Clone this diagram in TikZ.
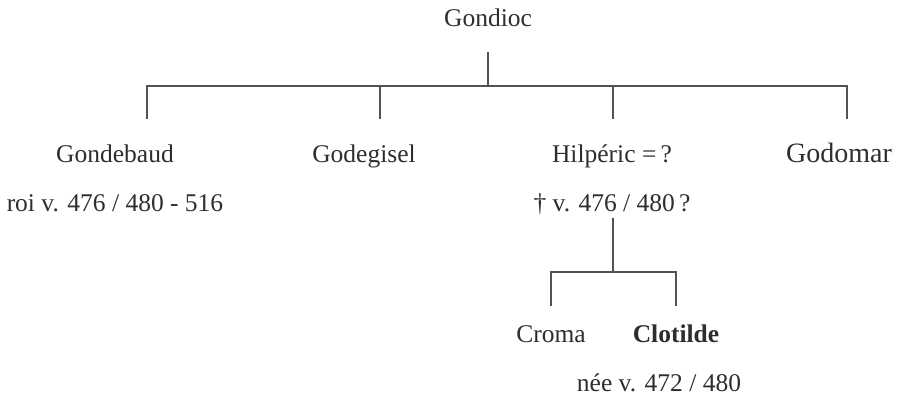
\documentclass[tikz,border=0pt]{standalone}
\usepackage{fontspec}
\setmainfont{Liberation Serif}
\usetikzlibrary{calc}

\tikzset{
  person/.style={anchor=base, inner sep=0pt, text=black!82,
    font=\fontsize{25.5}{30}\selectfont},
  link/.style={draw=black!68, line width=1.3pt},
}

\begin{document}
\begin{tikzpicture}[x=1pt,y=-1pt]
\useasboundingbox (0,0) rectangle (897,395);
% first generation
\node[person] (gondioc) at (488,27) {Gondioc};
% sons of Gondioc
\node[person] (gondebaud) at (115,163) {Gondebaud};
\node[person] (godegisel) at (364,163) {Godegisel};
\node[person] (hilperic) at (612,163) {Hilpéric =\,?};
\node[person, font=\fontsize{28}{32}\selectfont] (godomar) at (839,163) {Godomar};
\node[person] (roi) at (115,212) {roi v. 476 / 480 - 516};
\node[person] (mort) at (612,212) {† v. 476 / 480\,?};
% daughters of Hilperic
\node[person] (croma) at (551,342) {Croma};
\node[person] (clotilde) at (676,342) {\bfseries Clotilde};
\node[person] (nee) at (659,391) {née v. 472 / 480};

% branches
\coordinate (fork) at ($(gondioc.base)+(0,59)$);
\coordinate (d1) at (147,119);
\coordinate (d2) at (380,119);
\coordinate (d3) at (613,119);
\coordinate (d4) at (847,119);
\draw[link] ($(gondioc.base)+(0,25)$) -- (fork);
\draw[link] (d1) |- (fork) -| (d4);
\draw[link] (d2) -- (d2 |- fork);
\draw[link] (d3) -- (d3 |- fork);

\coordinate (fork2) at ($(mort.base)+(1,60)$);
\draw[link] ($(mort.base)+(1,6)$) -- (fork2);
\draw[link] ($(croma.base)+(0,-36)$) |- (fork2) -| ($(clotilde.base)+(0,-36)$);
\end{tikzpicture}
\end{document}
